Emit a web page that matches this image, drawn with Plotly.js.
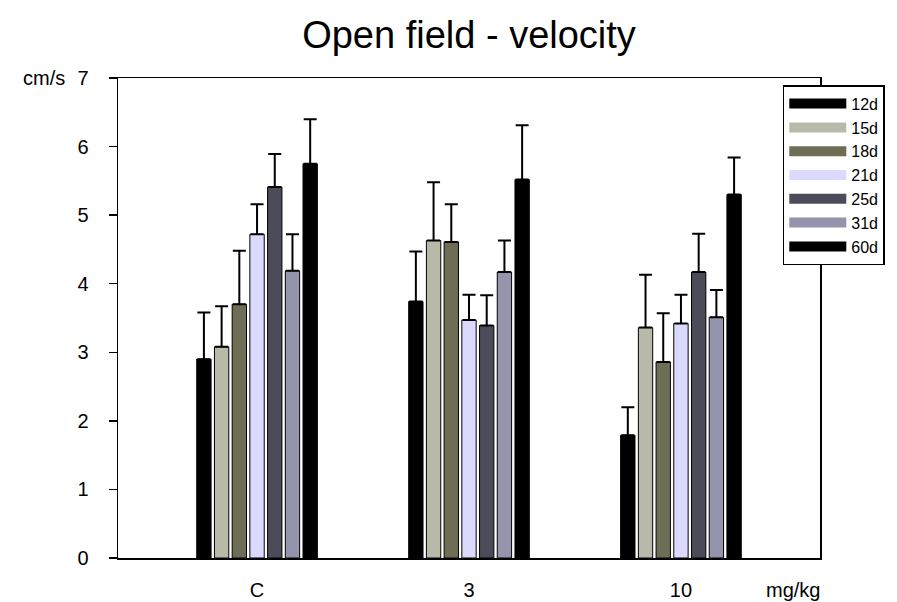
<!DOCTYPE html>
<html>
<head>
<meta charset="utf-8">
<script src="https://cdn.plot.ly/plotly-3.0.1.min.js"></script>
<style>html,body{margin:0;padding:0;background:#fff;}#chart{width:897px;height:602px;}</style>
</head>
<body>
<div id="chart"></div>
<script>
// Categories (dose) and series (age)
const categories = ['C', '3', '10'];
const seriesNames = ['12d', '15d', '18d', '21d', '25d', '31d', '60d'];
const seriesColors = ['#000000', '#b9b9a9', '#6e6e56', '#dadaff', '#4b4b5a', '#9494ac', '#000000'];

// Mean velocity (cm/s) per series, for C, 3, 10 mg/kg
const v12d = [2.90, 3.74, 1.79];
const v15d = [3.08, 4.63, 3.36];
const v18d = [3.70, 4.61, 2.86];
const v21d = [4.72, 3.47, 3.42];
const v25d = [5.41, 3.39, 4.17];
const v31d = [4.19, 4.17, 3.51];
const v60d = [5.75, 5.52, 5.30];

// Error bar (upper) sizes
const e12d = [0.68, 0.73, 0.41];
const e15d = [0.59, 0.85, 0.77];
const e18d = [0.78, 0.55, 0.71];
const e21d = [0.44, 0.37, 0.42];
const e25d = [0.48, 0.44, 0.56];
const e31d = [0.53, 0.46, 0.40];
const e60d = [0.65, 0.79, 0.54];

const yTicks = [0, 1, 2, 3, 4, 5, 6, 7];

const values = [v12d, v15d, v18d, v21d, v25d, v31d, v60d];
const errors = [e12d, e15d, e18d, e21d, e25d, e31d, e60d];

const FONT = 'Liberation Sans, Arial, Helvetica, sans-serif';

const barTraces = seriesNames.map((name, i) => ({
  type: 'bar',
  name: name,
  legendgroup: name,
  showlegend: false,
  x: categories,
  y: values[i],
  marker: { color: seriesColors[i], line: { color: '#000', width: 1 } },
  error_y: { type: 'data', array: errors[i], symmetric: false, arrayminus: [0, 0, 0],
             color: '#000', thickness: 2, width: 6.5 },
  hoverinfo: 'x+y+name'
}));

// legend entries drawn as wide swatches (no marks on the plot)
const legendTraces = seriesNames.map((name, i) => ({
  type: 'scatter',
  mode: 'lines',
  name: name,
  legendgroup: name,
  x: [null],
  y: [null],
  line: { color: seriesColors[i], width: 10 },
  hoverinfo: 'skip'
}));

const layout = {
  width: 897, height: 602,
  margin: { l: 118, r: 77, t: 78, b: 44 },
  paper_bgcolor: '#fff', plot_bgcolor: '#fff',
  font: { family: FONT, color: '#000', size: 20 },
  title: { text: 'Open field - velocity', x: 0.5, xref: 'paper', y: 0.942, yanchor: 'middle',
           font: { family: FONT, size: 38, color: '#000' } },
  barmode: 'group',
  bargap: 0.415,
  bargroupgap: 0.19,
  showlegend: true,
  legend: {
    x: 0.947, xanchor: 'left', y: 0.985, yanchor: 'top',
    bordercolor: '#000', borderwidth: 1.5, bgcolor: '#fff',
    font: { family: FONT, size: 16, color: '#000' },
    itemwidth: 57, tracegroupgap: 0, traceorder: 'normal'
  },
  xaxis: {
    type: 'category',
    range: [-0.656, 2.656],
    showgrid: false, zeroline: false,
    showline: true, linecolor: '#000', linewidth: 1.5, mirror: true,
    ticks: '', ticklabelstandoff: 13,
    tickfont: { family: FONT, size: 20, color: '#000' }
  },
  yaxis: {
    range: [0, 7],
    tickvals: yTicks,
    showgrid: false, zeroline: false,
    showline: true, linecolor: '#000', linewidth: 1.5, mirror: true,
    ticks: 'outside', ticklen: 8, tickwidth: 1.5, tickcolor: '#000',
    ticklabelstandoff: 16,
    tickfont: { family: FONT, size: 20, color: '#000' }
  },
  annotations: [
    { text: 'cm/s', xref: 'paper', yref: 'y', x: 0, y: 7, xanchor: 'right', yanchor: 'middle',
      xshift: -51, showarrow: false, font: { family: FONT, size: 20, color: '#000' } },
    { text: 'mg/kg', xref: 'paper', yref: 'paper', x: 0.9615, y: -0.067, xanchor: 'center', yanchor: 'middle',
      showarrow: false, font: { family: FONT, size: 20, color: '#000' } }
  ]
};

Plotly.newPlot('chart', barTraces.concat(legendTraces), layout, { displayModeBar: false, staticPlot: true });
</script>
</body>
</html>
